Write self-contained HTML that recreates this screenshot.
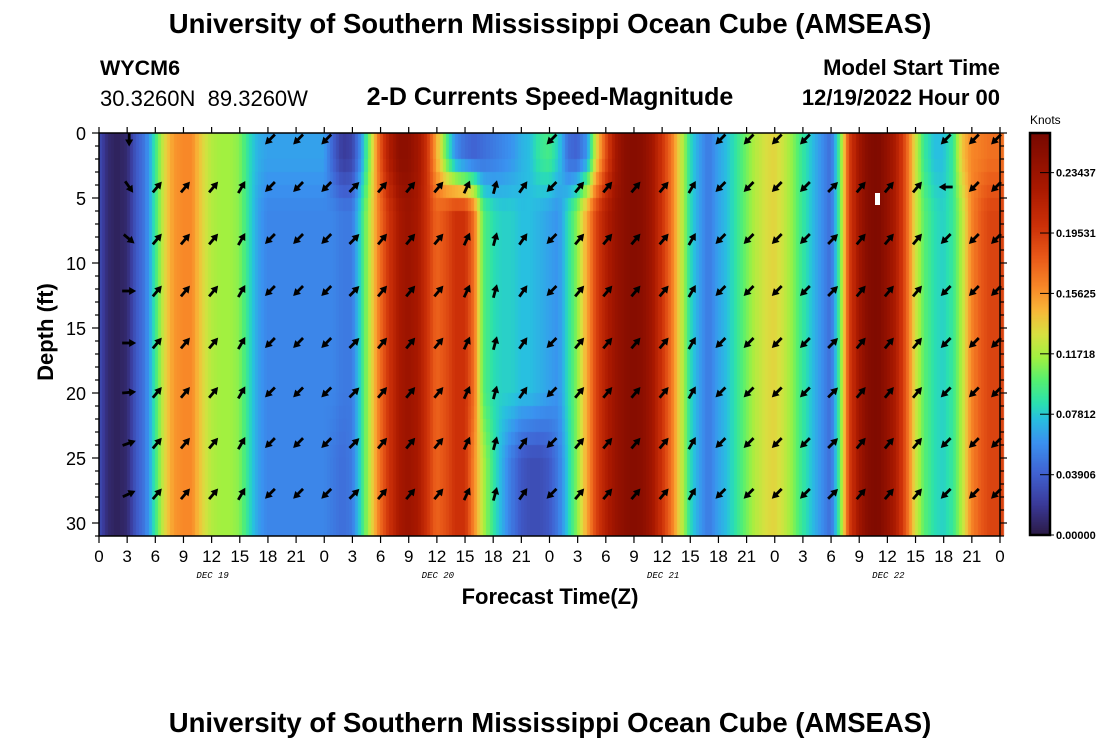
<!DOCTYPE html>
<html><head><meta charset="utf-8"><style>
body{margin:0;background:#fff;width:1100px;height:750px;overflow:hidden;position:relative;font-family:"Liberation Sans",sans-serif}
.t{position:absolute;white-space:nowrap;color:#000}
</style></head><body>
<div class="t" style="left:0;width:1100px;text-align:center;top:8px;font-size:27.5px;font-weight:bold">University of Southern Mississippi Ocean Cube (AMSEAS)</div>
<div class="t" style="left:100px;top:56px;font-size:21.5px;font-weight:bold">WYCM6</div>
<div class="t" style="left:100px;top:86px;font-size:22px">30.3260N&nbsp;&nbsp;89.3260W</div>
<div class="t" style="left:0;width:1100px;text-align:center;top:83px;font-size:25px;font-weight:bold">2-D Currents Speed-Magnitude</div>
<div class="t" style="right:100px;top:55px;font-size:22px;font-weight:bold">Model Start Time</div>
<div class="t" style="right:100px;top:85px;font-size:22px;font-weight:bold">12/19/2022 Hour 00</div>
<div class="t" style="left:0;width:1100px;text-align:center;top:707px;font-size:27.5px;font-weight:bold">University of Southern Mississippi Ocean Cube (AMSEAS)</div>
<canvas id="hm" width="1100" height="750" style="position:absolute;left:0;top:0"></canvas>
<svg id="ov" width="1100" height="750" style="position:absolute;left:0;top:0"></svg>
<script>
const hours=[];for(let i=0;i<=96;i++)hours.push(i);
const midSpeed=[.03,.01,.005,.01,.035,.05,.09,.13,.155,.16,.16,.135,.12,.115,.115,.11,.085,.065,.055,.055,.055,.055,.055,.055,.055,.055,.05,.05,.085,.13,.17,.20,.225,.235,.225,.20,.175,.185,.20,.20,.17,.10,.085,.08,.08,.075,.075,.07,.065,.06,.085,.11,.15,.19,.215,.235,.245,.25,.245,.23,.20,.17,.13,.085,.065,.05,.065,.075,.09,.105,.12,.13,.135,.125,.11,.09,.075,.06,.045,.10,.19,.23,.25,.255,.24,.22,.18,.13,.10,.085,.08,.09,.12,.16,.18,.19,.19];
const surfaceSpeed=[.03,.01,.005,.01,.035,.05,.09,.13,.155,.16,.16,.135,.12,.115,.115,.11,.085,.07,.065,.065,.065,.065,.065,.065,.065,.04,.02,.025,.06,.12,.18,.22,.245,.245,.23,.20,.15,.10,.06,.045,.04,.045,.05,.055,.06,.07,.075,.09,.095,.08,.045,.04,.06,.13,.18,.225,.245,.25,.245,.23,.20,.17,.13,.085,.065,.05,.065,.075,.09,.105,.12,.13,.135,.125,.11,.09,.075,.06,.045,.10,.19,.23,.25,.255,.24,.22,.18,.13,.09,.075,.075,.09,.14,.16,.165,.17,.17];
const bottomSpeed=[.03,.01,.005,.01,.035,.05,.09,.13,.155,.16,.16,.135,.12,.115,.115,.11,.085,.065,.055,.055,.055,.055,.055,.055,.055,.05,.045,.05,.085,.13,.17,.20,.225,.235,.225,.20,.175,.185,.20,.20,.16,.12,.09,.07,.05,.035,.03,.03,.035,.05,.08,.11,.15,.19,.215,.235,.245,.25,.245,.23,.20,.17,.13,.085,.065,.05,.065,.075,.09,.105,.12,.13,.135,.125,.11,.09,.075,.06,.045,.10,.19,.23,.25,.255,.24,.22,.18,.13,.10,.085,.08,.09,.12,.16,.18,.19,.19];
const arrowHours=[3,6,9,12,15,18,21,24,27,30,33,36,39,42,45,48,51,54,57,60,63,66,69,72,75,78,81,84,87,90,93,96];
const arrowDirs=[0,50,50,50,60,225,225,225,45,50,50,50,65,75,55,225,50,50,50,50,60,225,225,225,225,45,50,50,50,225,225,225];
const hour3Dirs=[270,305,320,0,0,5,20,25];
const arrowDepths=[0.5,4,8,12,16,19.8,23.7,27.6];
const yTicks=[0,5,10,15,20,25,30];
const xTickLabels=['0','3','6','9','12','15','18','21','0','3','6','9','12','15','18','21','0','3','6','9','12','15','18','21','0','3','6','9','12','15','18','21','0'];
const dayLabels=['DEC 19','DEC 20','DEC 21','DEC 22'];
const cbTicks=[0.0,0.039,0.07812,0.11718,0.15625,0.19531,0.23437];
const cbLabels=['0.00000','0.03906','0.07812','0.11718','0.15625','0.19531','0.23437'];
const X0=99,X1=1000,Y0=133,Y1=536,DMAX=31,VMAX=0.26;
const xs=h=>X0+(X1-X0)*h/96, ys=d=>Y0+(Y1-Y0)*d/DMAX;
const stops=[[0,'#2b1a45'],[.02,'#3a3a9a'],[.04,'#4062d2'],[.06,'#3a92f0'],[.075,'#28c0e0'],[.085,'#2ae0b0'],[.10,'#55f070'],[.115,'#a2f040'],[.13,'#d8e040'],[.145,'#f8b838'],[.16,'#f88828'],[.18,'#e85818'],[.20,'#cc3008'],[.225,'#a81800'],[.26,'#780800']];
function hx(c){return [1,3,5].map(i=>parseInt(c.substr(i,2),16));}
function cmap(v){v=Math.max(0,Math.min(VMAX,v));for(let i=1;i<stops.length;i++){if(v<=stops[i][0]){const a=stops[i-1],b=stops[i],t=(v-a[0])/(b[0]-a[0]);const p=hx(a[1]),q=hx(b[1]);return 'rgb('+p.map((x,k)=>Math.round(x+(q[k]-x)*t)).join(',')+')';}}return stops[stops.length-1][1];}
function lerp(a,b,t){return a+(b-a)*t;}
function val(h,d){const i=Math.min(95,Math.floor(h)),t=h-i;
 const s=lerp(surfaceSpeed[i],surfaceSpeed[i+1],t),m=lerp(midSpeed[i],midSpeed[i+1],t),b=lerp(bottomSpeed[i],bottomSpeed[i+1],t);
 if(d<=2)return s; if(d<6)return lerp(s,m,(d-2)/4); if(d<=20)return m; if(d<25)return lerp(m,b,(d-20)/5); return b;}
const ctx=document.getElementById('hm').getContext('2d');
const dh=1/3,dd=1;
for(let h=0;h<96;h+=dh){for(let d=0;d<DMAX;d+=dd){ctx.fillStyle=cmap(val(h+dh/2,d+dd/2));const x=Math.floor(xs(h)),x2=Math.ceil(xs(h+dh)),y=Math.floor(ys(d)),y2=Math.ceil(ys(d+dd));ctx.fillRect(x,y,x2-x,y2-y);}}
for(let y=133;y<535;y++){ctx.fillStyle=cmap(VMAX*(535-y-0.5)/402);ctx.fillRect(1030,y,20,1);}
const NS='http://www.w3.org/2000/svg',ov=document.getElementById('ov');
function el(tag,at,parent){const e=document.createElementNS(NS,tag);for(const k in at)e.setAttribute(k,at[k]);(parent||ov).appendChild(e);return e;}
const frame=el('rect',{x:X0,y:Y0,width:X1-X0,height:Y1-Y0,fill:'none',stroke:'#000','stroke-width':1.5});


for(let d=0;d<=DMAX;d++){const y=ys(d),L=d%5==0?7:4;
 el('line',{x1:X0-L,y1:y,x2:X0,y2:y,stroke:'#000','stroke-width':1.2});
 el('line',{x1:X1,y1:y,x2:X1+L,y2:y,stroke:'#000','stroke-width':1.2});}
yTicks.forEach(v=>{const t=el('text',{x:86,y:ys(v)+7,'text-anchor':'end','font-size':18,'font-family':'Liberation Sans'});t.textContent=v;
 
 });
xTickLabels.forEach((lab,i)=>{const x=xs(i*3);
 el('line',{x1:x,y1:Y0-6,x2:x,y2:Y0,stroke:'#000','stroke-width':1.2});
 el('line',{x1:x,y1:Y1,x2:x,y2:Y1+7,stroke:'#000','stroke-width':1.2});
 const t=el('text',{x:x,y:562,'text-anchor':'middle','font-size':17,'font-family':'Liberation Sans'});t.textContent=lab;
 
 });
dayLabels.forEach((lab,i)=>{const t=el('text',{x:xs(12+24*i)+1,y:578,'text-anchor':'middle','font-size':9,'font-style':'italic','font-family':'Liberation Mono'});t.textContent=lab;
 
 });
const xl=el('text',{x:550,y:604,'text-anchor':'middle','font-size':22,'font-weight':'bold','font-family':'Liberation Sans'});xl.textContent='Forecast Time(Z)';


const yl=el('text',{x:0,y:0,transform:'translate(53,332) rotate(-90)','text-anchor':'middle','font-size':22,'font-weight':'bold','font-family':'Liberation Sans'});yl.textContent='Depth (ft)';


function arrow(cx,cy,deg){const a=deg*Math.PI/180,dx=Math.cos(a),dy=-Math.sin(a),L=7;
 const g=el('g',{});
 
 
 const tx=cx+dx*L,ty=cy+dy*L;
 el('line',{x1:cx-dx*L,y1:cy-dy*L,x2:tx-dx*3,y2:ty-dy*3,stroke:'#000','stroke-width':2.8},g);
 const px=-dy,py=dx;
 el('polygon',{points:`${tx},${ty} ${tx-dx*7+px*4},${ty-dy*7+py*4} ${tx-dx*7-px*4},${ty-dy*7-py*4}`,fill:'#000'},g);}
arrowHours.forEach((h,i)=>{arrowDepths.forEach((d,j)=>{let deg=h==3?hour3Dirs[j]:arrowDirs[i];
 if(h==90&&j==1)deg=180;
 if(j==0&&Math.sin(deg*Math.PI/180)>-0.1)return;
 arrow(Math.min(xs(h)+2,X1-4),ys(d)+(j==0?0:2),deg);});});
const wm=el('rect',{x:875,y:193,width:5,height:12,fill:'#fff'});


const cb=el('rect',{x:1030,y:133,width:20,height:402,fill:'none',stroke:'#000','stroke-width':2.5});


const kt=el('text',{x:1030,y:124,'font-size':12,'font-family':'Liberation Sans'});kt.textContent='Knots';


cbTicks.forEach((v,i)=>{const y=535-402*v/VMAX;
 el('line',{x1:1040,y1:y,x2:1054,y2:y,stroke:'#000','stroke-width':1});
 const t=el('text',{x:1056,y:y+4,'font-size':11,'font-weight':'bold','font-family':'Liberation Sans'});t.textContent=cbLabels[i];
 
 });
</script>
</body></html>
